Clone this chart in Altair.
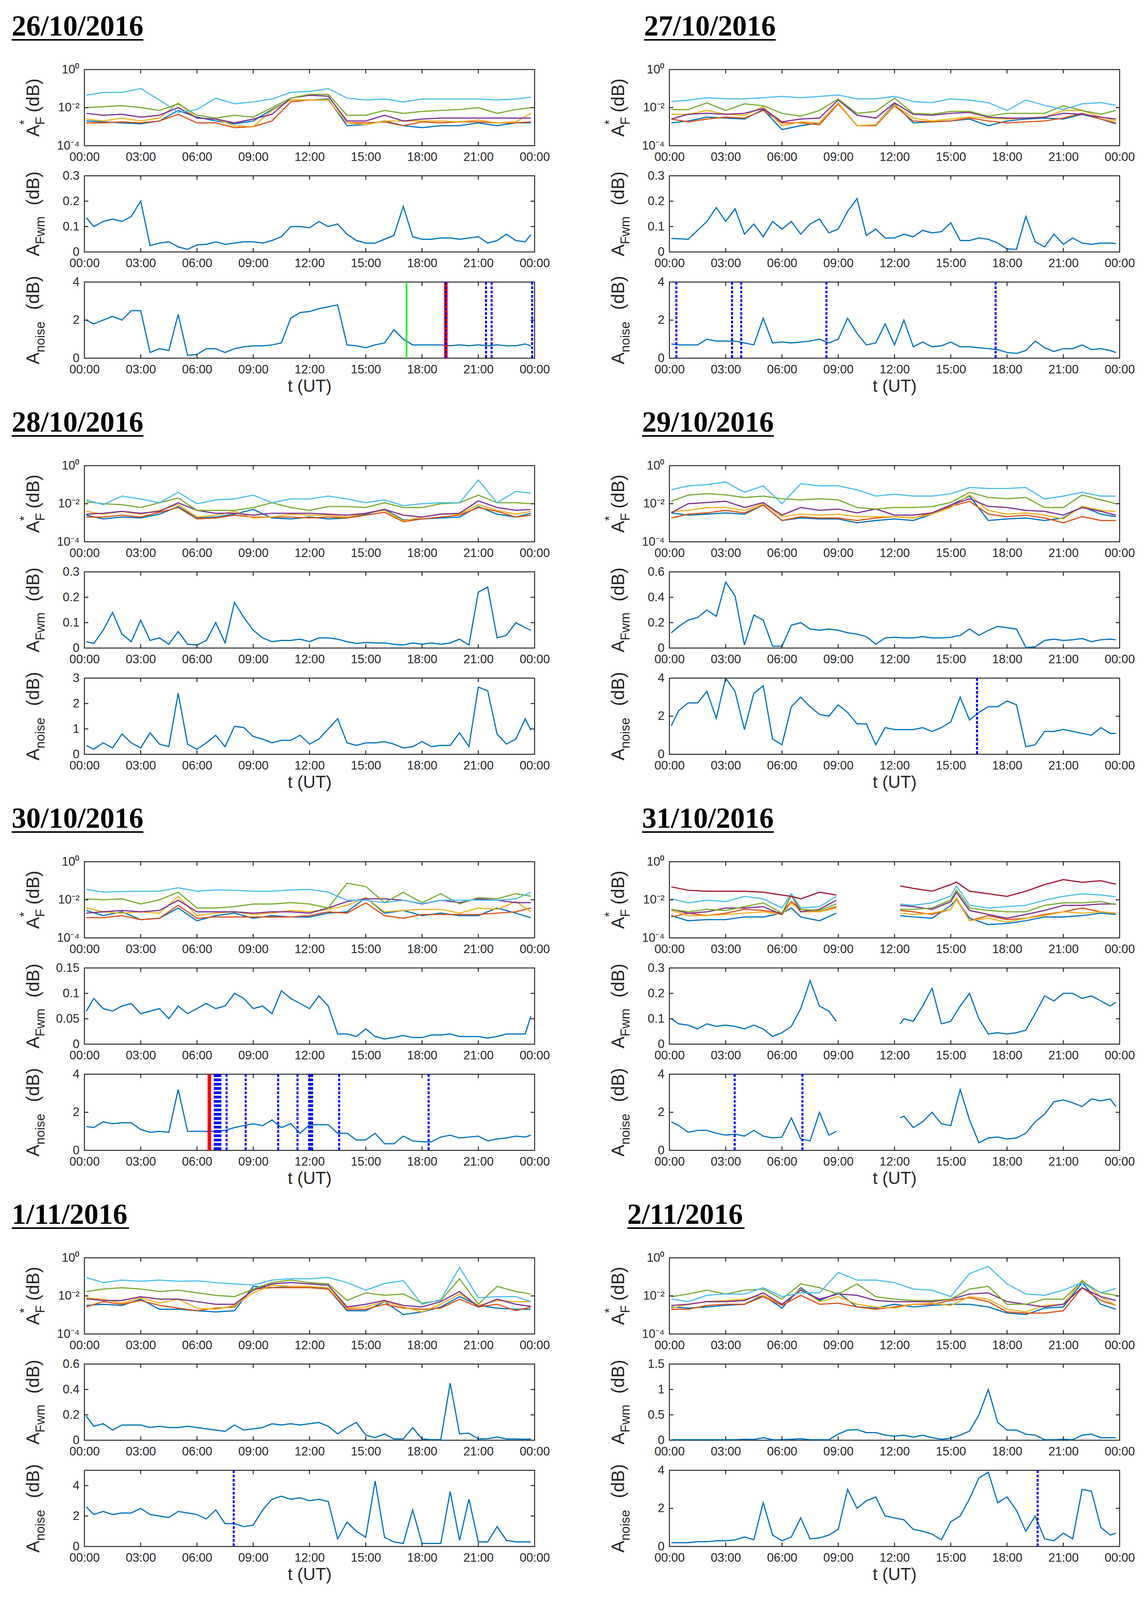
import altair as alt
import pandas as pd

# sample times, hours UT
HOURS = [0.1, 1, 2, 3, 4, 5, 6, 7, 8, 9, 10, 11, 12, 13, 14, 15, 16, 17, 18, 19, 20, 21, 22, 23, 23.8]
HALF = [0.1, 0.5, 1, 1.5, 2, 2.5, 3, 3.5, 4, 4.5, 5, 5.5,
        6, 6.5, 7, 7.5, 8, 8.5, 9, 9.5, 10, 10.5, 11, 11.5,
        12, 12.5, 13, 13.5, 14, 14.5, 15, 15.5, 16, 16.5, 17, 17.5,
        18, 18.5, 19, 19.5, 20, 20.5, 21, 21.5, 22, 22.5, 23, 23.5, 23.8]
# 31/10 has no data between ~09:00 and ~12:20 (10.5 marks the gap)
HOURS_31 = [0.1, 1, 2, 3, 4, 5, 6, 6.5, 7, 8, 8.9, 10.5, 12.3, 13, 14, 15, 15.3,
            16, 17, 18, 19, 20, 21, 22, 23, 23.8]
HALF_31 = [0.1, 0.5, 1, 1.5, 2, 2.5, 3, 3.5, 4, 4.5, 5, 5.5,
           6, 6.5, 7, 7.5, 8, 8.5, 8.9, 10.5, 12.3,
           12.5, 13, 13.5, 14, 14.5, 15, 15.5, 16, 16.5, 17, 17.5,
           18, 18.5, 19, 19.5, 20, 20.5, 21, 21.5, 22, 22.5, 23, 23.5, 23.8]

# ---- 26/10/2016 ---- (A*F as log10 values)
D26_BL = [-2.7, -2.75, -2.8, -2.85, -2.7, -2.15, -2.5, -2.7, -2.85, -2.7, -2.1, -1.6,
          -1.6, -1.55, -2.95, -2.9, -2.7, -2.95, -3.05, -2.95, -2.95, -2.8, -2.95, -2.8, -2.8]
D26_OR = [-2.8, -2.8, -2.75, -2.8, -2.7, -2.35, -2.8, -2.8, -3.05, -3.0, -2.7, -1.7,
          -1.6, -1.6, -2.8, -2.8, -2.75, -2.95, -2.75, -2.8, -2.75, -2.75, -2.8, -2.8, -2.75]
D26_YE = [-2.6, -2.7, -2.55, -2.7, -2.55, -1.75, -2.55, -2.6, -2.95, -3.0, -2.15, -1.6,
          -1.6, -1.6, -2.8, -2.9, -2.7, -2.7, -2.7, -2.7, -2.75, -2.65, -2.8, -2.75, -2.3]
D26_PU = [-2.3, -2.4, -2.35, -2.5, -2.4, -2.0, -2.55, -2.6, -2.8, -2.6, -2.35, -1.5,
          -1.35, -1.4, -2.7, -2.7, -2.4, -2.7, -2.6, -2.55, -2.55, -2.55, -2.55, -2.55, -2.55]
D26_GR = [-2.0, -1.95, -1.9, -2.0, -2.15, -1.8, -2.4, -2.55, -2.4, -2.5, -2.0, -1.5,
          -1.3, -1.3, -2.4, -2.4, -2.15, -2.3, -2.2, -2.15, -2.1, -2.0, -2.3, -2.1, -2.0]
D26_LB = [-1.35, -1.2, -1.2, -1.0, -1.6, -2.25, -2.1, -1.5, -1.8, -1.7, -1.55, -1.2,
          -1.15, -1.0, -1.5, -1.6, -1.55, -1.7, -1.55, -1.55, -1.55, -1.55, -1.6, -1.55, -1.45]
D26_FWM = [0.135, 0.10, 0.12, 0.13, 0.12, 0.14, 0.20, 0.025, 0.035, 0.04, 0.02, 0.01,
           0.028, 0.03, 0.04, 0.03, 0.035, 0.04, 0.04, 0.035, 0.045, 0.06, 0.10, 0.10,
           0.095, 0.12, 0.10, 0.11, 0.07, 0.045, 0.035, 0.035, 0.05, 0.065, 0.18, 0.06,
           0.05, 0.05, 0.055, 0.055, 0.05, 0.055, 0.06, 0.035, 0.045, 0.07, 0.045, 0.04, 0.068]
D26_NOISE = [2.0, 1.8, 2.0, 2.2, 2.0, 2.5, 2.5, 0.3, 0.5, 0.4, 2.3, 0.15,
             0.2, 0.5, 0.5, 0.3, 0.5, 0.6, 0.65, 0.65, 0.7, 0.8, 2.1, 2.4,
             2.45, 2.6, 2.7, 2.8, 0.7, 0.65, 0.55, 0.7, 0.8, 1.5, 1.0, 0.7,
             0.7, 0.7, 0.7, 0.65, 0.7, 0.65, 0.7, 0.65, 0.7, 0.65, 0.65, 0.75, 0.65]
E26_GREEN = [17.17]
E26_RED = [19.27]
E26_BLUE = [19.27, 21.41, 21.71, 23.87]

# ---- 27/10/2016 ----
D27_BL = [-2.8, -2.7, -2.5, -2.55, -2.6, -2.1, -3.15, -2.95, -2.8, -1.75, -2.95, -2.9,
          -1.8, -2.8, -2.75, -2.7, -2.6, -2.95, -2.7, -2.6, -2.55, -2.6, -2.35, -2.6, -2.85]
D27_OR = [-2.6, -2.75, -2.6, -2.5, -2.55, -2.15, -2.8, -2.8, -2.9, -1.8, -2.95, -2.95,
          -1.9, -2.7, -2.75, -2.7, -2.55, -2.7, -2.8, -2.75, -2.7, -2.55, -2.3, -2.6, -2.8]
D27_YE = [-2.35, -2.35, -2.15, -2.35, -2.4, -1.95, -2.95, -2.75, -2.8, -1.75, -2.95, -2.9,
          -1.85, -2.55, -2.7, -2.6, -2.5, -2.55, -2.6, -2.55, -2.5, -2.15, -2.15, -2.5, -2.7]
D27_PU = [-2.6, -2.35, -2.3, -2.35, -2.3, -2.05, -2.75, -2.6, -2.55, -1.6, -2.4, -2.55,
          -1.75, -2.35, -2.4, -2.3, -2.25, -2.5, -2.55, -2.55, -2.5, -2.3, -2.35, -2.5, -2.6]
D27_GR = [-2.1, -2.1, -1.75, -2.15, -1.8, -1.9, -2.3, -2.45, -2.15, -1.55, -2.3, -2.2,
          -1.5, -2.3, -2.35, -2.2, -2.2, -2.45, -2.3, -2.3, -2.3, -1.9, -2.15, -2.35, -2.15]
D27_LB = [-1.68, -1.61, -1.48, -1.54, -1.54, -1.48, -1.41, -1.48, -1.41, -1.34, -1.54, -1.54,
          -1.41, -1.68, -1.74, -1.54, -1.61, -1.74, -2.15, -1.6, -1.88, -2.1, -1.8, -1.74, -1.88]
D27_FWM = [0.053, 0.052, 0.05, 0.085, 0.12, 0.175, 0.12, 0.17, 0.07, 0.11, 0.06, 0.12,
           0.09, 0.12, 0.07, 0.11, 0.13, 0.075, 0.09, 0.16, 0.21, 0.065, 0.09, 0.055,
           0.055, 0.07, 0.06, 0.085, 0.075, 0.08, 0.115, 0.045, 0.045, 0.055, 0.05, 0.035,
           0.012, 0.01, 0.14, 0.04, 0.02, 0.07, 0.03, 0.055, 0.035, 0.03, 0.035, 0.035, 0.033]
D27_NOISE = [0.75, 0.7, 0.7, 0.7, 1.0, 0.9, 0.9, 0.9, 0.8, 0.7, 2.1, 0.8,
             0.85, 0.8, 0.85, 0.9, 1.0, 0.8, 1.0, 2.1, 1.3, 0.7, 0.8, 1.8,
             0.7, 2.0, 0.6, 0.85, 0.6, 0.65, 0.85, 0.6, 0.6, 0.55, 0.5, 0.45,
             0.3, 0.25, 0.4, 0.9, 0.55, 0.35, 0.5, 0.5, 0.7, 0.45, 0.5, 0.4, 0.3]
E27_BLUE = [0.37, 3.34, 3.83, 8.37, 17.39]

# ---- 28/10/2016 ----
D28_BL = [-2.6, -2.8, -2.7, -2.75, -2.55, -2.15, -2.75, -2.7, -2.55, -2.3, -2.75, -2.8,
          -2.7, -2.8, -2.75, -2.55, -2.3, -2.85, -2.8, -2.75, -2.7, -2.15, -2.55, -2.7, -2.5]
D28_OR = [-2.7, -2.7, -2.6, -2.7, -2.45, -2.2, -2.8, -2.75, -2.6, -2.7, -2.7, -2.7,
          -2.75, -2.7, -2.75, -2.6, -2.45, -2.95, -2.8, -2.7, -2.6, -2.2, -2.4, -2.7, -2.6]
D28_YE = [-2.4, -2.55, -2.4, -2.55, -2.35, -2.05, -2.7, -2.6, -2.4, -2.75, -2.7, -2.55,
          -2.6, -2.6, -2.7, -2.5, -2.35, -2.9, -2.7, -2.55, -2.55, -2.05, -2.35, -2.55, -2.4]
D28_PU = [-2.55, -2.5, -2.4, -2.5, -2.4, -1.95, -2.35, -2.5, -2.5, -2.6, -2.5, -2.5,
          -2.5, -2.55, -2.6, -2.5, -2.3, -2.6, -2.7, -2.55, -2.5, -1.85, -2.2, -2.35, -2.3]
D28_GR = [-1.9, -2.0, -2.05, -2.2, -1.95, -1.7, -2.35, -2.35, -2.35, -2.2, -1.95, -2.2,
          -2.35, -2.15, -2.15, -2.2, -1.95, -2.2, -2.2, -2.0, -1.95, -1.55, -1.95, -1.95, -2.0]
D28_LB = [-1.8, -2.05, -1.6, -1.75, -1.95, -1.4, -2.0, -1.8, -1.75, -1.55, -1.95, -1.75,
          -1.75, -1.6, -1.75, -1.95, -1.8, -2.1, -2.0, -1.95, -1.95, -0.75, -1.95, -1.35, -1.45]
D28_FWM = [0.025, 0.018, 0.07, 0.14, 0.055, 0.025, 0.11, 0.03, 0.04, 0.015, 0.065, 0.015,
           0.012, 0.03, 0.1, 0.02, 0.18, 0.12, 0.07, 0.04, 0.025, 0.03, 0.03, 0.035,
           0.025, 0.04, 0.04, 0.035, 0.025, 0.018, 0.022, 0.02, 0.02, 0.015, 0.012, 0.02,
           0.015, 0.02, 0.015, 0.02, 0.035, 0.012, 0.22, 0.24, 0.04, 0.05, 0.1, 0.08, 0.07]
D28_NOISE = [0.35, 0.2, 0.45, 0.25, 0.8, 0.45, 0.25, 0.85, 0.4, 0.3, 2.4, 0.4,
             0.2, 0.45, 0.75, 0.3, 1.1, 1.05, 0.7, 0.6, 0.45, 0.55, 0.55, 0.75,
             0.4, 0.6, 1.0, 1.4, 0.45, 0.35, 0.45, 0.45, 0.5, 0.4, 0.25, 0.3,
             0.5, 0.3, 0.35, 0.35, 0.85, 0.3, 2.65, 2.5, 0.8, 0.4, 0.6, 1.4, 0.95]

# ---- 29/10/2016 ----
D29_BL = [-2.48, -2.6, -2.55, -2.48, -2.55, -2.07, -2.88, -2.75, -2.8, -2.8, -3.0, -2.88,
          -2.8, -2.88, -2.55, -2.07, -1.6, -2.88, -2.8, -2.75, -2.88, -2.75, -2.14, -2.55, -2.68]
D29_OR = [-2.75, -2.55, -2.48, -2.35, -2.48, -2.07, -2.88, -2.68, -2.75, -2.75, -2.88, -2.75,
          -2.68, -2.75, -2.48, -2.14, -1.87, -2.55, -2.68, -2.6, -2.75, -3.0, -2.68, -2.88, -2.88]
D29_YE = [-2.41, -2.35, -2.2, -2.2, -2.35, -2.0, -2.68, -2.55, -2.6, -2.55, -2.68, -2.68,
          -2.68, -2.75, -2.55, -2.2, -1.54, -2.35, -2.55, -2.48, -2.6, -2.8, -2.14, -2.35, -2.41]
D29_PU = [-2.48, -2.0, -1.94, -1.87, -2.2, -1.94, -2.6, -2.2, -2.35, -2.28, -2.48, -2.28,
          -2.6, -2.6, -2.48, -2.07, -1.74, -2.14, -2.2, -2.35, -2.4, -2.6, -2.2, -2.4, -2.6]
D29_GR = [-1.87, -1.55, -1.47, -1.54, -1.67, -1.6, -1.74, -1.8, -1.74, -1.8, -2.2, -2.28,
          -2.2, -2.2, -2.15, -1.94, -1.4, -1.67, -1.74, -1.67, -2.2, -2.2, -1.54, -1.8, -2.0]
D29_LB = [-1.27, -1.06, -1.0, -0.86, -1.4, -1.06, -2.0, -0.95, -1.06, -1.06, -1.27, -1.6,
          -1.5, -1.6, -1.6, -1.48, -1.15, -1.2, -1.2, -1.15, -1.75, -1.6, -1.4, -1.6, -1.6]
D29_FWM = [0.12, 0.17, 0.22, 0.24, 0.3, 0.25, 0.52, 0.41, 0.025, 0.26, 0.22, 0.015,
           0.015, 0.18, 0.2, 0.15, 0.14, 0.15, 0.14, 0.12, 0.11, 0.09, 0.03, 0.08,
           0.085, 0.08, 0.08, 0.09, 0.08, 0.08, 0.085, 0.1, 0.15, 0.1, 0.14, 0.17,
           0.16, 0.15, 0.005, 0.01, 0.06, 0.07, 0.06, 0.065, 0.075, 0.05, 0.065, 0.07, 0.065]
D29_NOISE = [1.5, 2.3, 2.7, 2.7, 3.3, 1.9, 4.0, 3.3, 1.3, 3.2, 3.6, 0.8,
             0.5, 2.5, 3.0, 2.5, 2.1, 2.0, 2.6, 2.2, 1.6, 1.6, 0.5, 1.4,
             1.3, 1.3, 1.3, 1.4, 1.2, 1.4, 1.7, 3.0, 1.8, 2.2, 2.5, 2.5,
             2.8, 2.6, 0.4, 0.5, 1.2, 1.2, 1.3, 1.2, 1.1, 1.0, 1.4, 1.1, 1.1]
E29_BLUE = [16.4]

# ---- 30/10/2016 ----
D30_BL = [-2.56, -2.83, -2.63, -3.04, -2.97, -2.43, -3.1, -2.83, -2.7, -2.97, -2.83, -2.9,
          -2.9, -2.7, -2.63, -1.88, -2.7, -2.56, -2.83, -2.7, -2.83, -2.83, -2.43, -2.7, -2.94]
D30_OR = [-2.94, -2.94, -2.83, -3.04, -2.97, -2.29, -2.97, -2.9, -2.9, -2.9, -2.9, -2.9,
          -2.83, -2.63, -2.7, -2.16, -2.83, -2.97, -2.77, -2.77, -2.77, -2.77, -2.7, -2.63, -2.43]
D30_YE = [-2.43, -2.63, -2.7, -2.63, -2.7, -1.82, -2.83, -2.7, -2.63, -2.77, -2.7, -2.56,
          -2.63, -2.5, -2.29, -1.88, -2.63, -2.56, -2.5, -2.5, -2.7, -2.43, -2.5, -2.09, -2.63]
D30_PU = [-2.7, -2.63, -2.56, -2.63, -2.56, -2.02, -2.63, -2.63, -2.63, -2.7, -2.63, -2.63,
          -2.7, -2.43, -2.09, -1.95, -1.95, -2.02, -2.22, -2.02, -2.15, -1.95, -2.02, -2.15, -2.15]
D30_GR = [-1.95, -2.0, -1.95, -2.22, -2.0, -1.6, -2.43, -2.43, -2.36, -2.22, -2.22, -2.15,
          -2.22, -2.43, -1.13, -1.3, -2.15, -1.61, -2.15, -1.68, -2.22, -1.88, -1.95, -1.68, -1.81]
D30_LB = [-1.45, -1.6, -1.57, -1.55, -1.55, -1.37, -1.55, -1.48, -1.5, -1.55, -1.55, -1.48,
          -1.45, -1.6, -2.02, -2.02, -2.15, -2.02, -2.2, -2.02, -2.02, -2.02, -2.02, -1.95, -1.6]
D30_FWM = [0.065, 0.09, 0.07, 0.065, 0.075, 0.08, 0.06, 0.065, 0.07, 0.05, 0.075, 0.06,
           0.07, 0.08, 0.07, 0.075, 0.1, 0.09, 0.07, 0.075, 0.06, 0.105, 0.09, 0.08,
           0.07, 0.095, 0.075, 0.02, 0.02, 0.015, 0.03, 0.015, 0.01, 0.013, 0.017, 0.013,
           0.013, 0.018, 0.018, 0.02, 0.015, 0.015, 0.015, 0.012, 0.015, 0.02, 0.02, 0.02, 0.055]
D30_NOISE = [1.25, 1.2, 1.5, 1.4, 1.45, 1.45, 1.1, 0.95, 1.0, 0.95, 3.2, 1.0,
             1.0, 1.0, 1.0, 1.05, 1.2, 1.3, 1.4, 1.3, 1.6, 1.2, 1.4, 0.9,
             1.35, 1.35, 1.35, 0.9, 0.9, 0.55, 0.55, 0.9, 0.35, 0.35, 0.75, 0.5,
             0.45, 0.45, 0.7, 0.8, 0.65, 0.7, 0.75, 0.5, 0.6, 0.65, 0.75, 0.7, 0.8]
E30_RED = [6.66]
E30_BLUE = [6.95, 7.05, 7.15, 7.25, 7.58, 8.6, 10.33, 11.36, 11.98, 12.06, 12.14, 13.58, 18.35]

# ---- 31/10/2016 ---- (None = no data)
D31_BL = [-2.83, -3.1, -3.04, -3.04, -2.9, -2.9, -2.7, -2.43, -2.9, -3.1, -2.7, None, -2.83,
          -2.9, -2.97, -2.3, -1.95, -2.97, -3.3, -3.24, -3.1, -2.9, -2.9, -2.83, -2.7, -2.77]
D31_OR = [-2.9, -2.7, -2.83, -2.7, -2.5, -2.56, -2.7, -2.09, -2.5, -2.63, -2.36, None, -2.56,
          -2.63, -2.77, -2.5, -1.95, -3.1, -2.83, -3.04, -2.97, -2.77, -2.63, -2.43, -2.63, -2.7]
D31_YE = [-2.56, -2.83, -2.83, -2.77, -2.7, -2.63, -2.77, -2.16, -2.63, -2.63, -2.43, None, -2.7,
          -2.77, -2.7, -2.5, -1.88, -3.1, -2.97, -3.17, -2.97, -2.83, -2.63, -2.7, -2.63, -2.7]
D31_PU = [-2.5, -2.7, -2.63, -2.43, -2.43, -2.36, -2.77, -1.75, -2.63, -2.5, -2.02, None, -2.29,
          -2.36, -2.5, -2.1, -1.61, -2.56, -2.77, -2.97, -2.77, -2.56, -2.29, -2.29, -2.22, -2.22]
D31_GR = [-2.5, -2.63, -2.5, -2.56, -2.36, -2.16, -2.7, -1.75, -2.5, -2.56, -2.22, None, -2.5,
          -2.5, -2.43, -2.0, -1.48, -2.43, -2.56, -2.63, -2.63, -2.29, -2.16, -2.16, -2.09, -2.25]
D31_LB = [-1.95, -2.16, -2.02, -2.09, -1.82, -1.95, -2.43, -1.68, -2.43, -2.36, -1.82, None, -2.22,
          -2.29, -2.16, -1.8, -1.27, -2.29, -2.43, -2.36, -2.29, -2.02, -1.82, -1.68, -1.75, -1.84]
D31_DR = [-1.32, -1.5, -1.55, -1.55, -1.55, -1.6, -1.75, -1.82, -1.95, -1.6, -1.75, None, -1.27,
          -1.4, -1.55, -1.2, -1.07, -1.55, -1.68, -1.82, -1.55, -1.2, -0.94, -1.08, -1.0, -1.18]
D31_FWM = [0.1, 0.08, 0.075, 0.06, 0.08, 0.07, 0.075, 0.07, 0.06, 0.075, 0.06, 0.03,
           0.045, 0.07, 0.14, 0.25, 0.15, 0.13, 0.09, None, 0.08,
           0.1, 0.09, 0.15, 0.22, 0.08, 0.09, 0.15, 0.2, 0.1, 0.04, 0.045,
           0.04, 0.045, 0.055, 0.12, 0.19, 0.17, 0.2, 0.2, 0.18, 0.19, 0.17, 0.15, 0.165]
D31_NOISE = [1.5, 1.3, 0.95, 1.05, 1.05, 0.9, 0.8, 0.85, 0.75, 1.05, 0.75, 0.65,
             0.7, 1.7, 0.6, 0.5, 2.0, 0.8, 1.0, None, 1.7,
             1.8, 1.2, 1.5, 2.0, 1.4, 1.3, 3.2, 1.6, 0.4, 0.65, 0.7,
             0.6, 0.65, 0.9, 1.5, 1.9, 2.55, 2.65, 2.5, 2.3, 2.7, 2.6, 2.7, 2.3]
E31_BLUE = [3.48, 7.09]

# ---- 1/11/2016 ----
D01_BL = [-2.5, -2.44, -2.5, -2.17, -2.7, -2.7, -2.78, -2.84, -2.78, -1.5, -1.57, -1.5,
          -1.5, -1.64, -2.78, -2.78, -2.3, -2.98, -2.84, -2.58, -2.04, -2.5, -2.64, -2.7, -2.7]
D01_OR = [-2.58, -2.3, -2.44, -2.24, -2.5, -2.64, -2.78, -2.64, -2.58, -1.64, -1.57, -1.57,
          -1.57, -1.64, -2.7, -2.7, -2.44, -2.64, -2.7, -2.64, -2.17, -2.58, -2.44, -2.78, -2.58]
D01_YE = [-2.1, -2.17, -2.38, -2.1, -2.38, -2.17, -2.64, -2.7, -2.5, -1.84, -1.44, -1.5,
          -1.5, -1.57, -2.64, -2.58, -2.3, -2.58, -2.84, -2.44, -1.9, -2.5, -2.24, -2.3, -2.3]
D01_PU = [-2.15, -2.24, -2.24, -2.04, -2.17, -2.17, -2.3, -2.44, -2.44, -1.7, -1.37, -1.3,
          -1.37, -1.44, -2.58, -2.44, -2.24, -2.5, -2.58, -2.3, -1.77, -2.58, -2.17, -2.44, -2.55]
D01_GR = [-1.77, -1.64, -1.57, -1.64, -1.77, -1.7, -1.84, -1.97, -2.04, -1.64, -1.3, -1.17,
          -1.3, -1.37, -2.24, -1.84, -1.97, -1.9, -2.38, -2.24, -1.1, -2.44, -1.5, -1.77, -1.9]
D01_LB = [-1.03, -1.3, -1.17, -1.23, -1.17, -1.23, -1.21, -1.3, -1.37, -1.43, -1.17, -1.1,
          -1.1, -1.03, -1.3, -1.7, -1.35, -1.2, -2.44, -2.2, -0.5, -2.1, -2.04, -2.04, -2.3]
D01_FWM = [0.19, 0.11, 0.13, 0.08, 0.12, 0.12, 0.12, 0.1, 0.11, 0.1, 0.1, 0.11,
           0.1, 0.09, 0.08, 0.07, 0.12, 0.08, 0.09, 0.1, 0.13, 0.12, 0.13, 0.12,
           0.13, 0.14, 0.11, 0.05, 0.1, 0.14, 0.04, 0.02, 0.05, 0.01, 0.01, 0.1,
           0.01, 0.005, 0.005, 0.45, 0.05, 0.055, 0.01, 0.012, 0.025, 0.01, 0.01, 0.008, 0.01]
D01_NOISE = [2.6, 2.1, 2.3, 2.1, 2.2, 2.2, 2.5, 2.1, 2.0, 1.9, 2.3, 2.2,
             2.1, 1.8, 2.4, 1.5, 1.5, 1.3, 1.4, 2.4, 3.1, 3.3, 3.1, 3.2,
             3.0, 3.1, 2.95, 0.5, 1.6, 1.0, 0.6, 4.3, 0.6, 0.3, 0.2, 2.4,
             0.2, 0.2, 0.2, 3.6, 0.4, 3.1, 0.3, 0.3, 1.3, 0.4, 0.3, 0.3, 0.3]
E01_BLUE = [7.96]

# ---- 2/11/2016 ----
D02_BL = [-2.58, -2.64, -2.58, -2.5, -2.44, -1.97, -2.64, -1.57, -2.24, -1.84, -2.58, -2.64,
          -2.44, -2.58, -2.5, -2.44, -2.44, -2.58, -2.9, -2.98, -2.64, -2.58, -1.3, -2.44, -2.7]
D02_OR = [-2.7, -2.7, -2.5, -2.44, -2.44, -2.04, -2.5, -1.97, -2.44, -2.38, -2.58, -2.7,
          -2.58, -2.44, -2.44, -2.24, -2.1, -2.3, -2.84, -2.9, -2.9, -2.78, -1.57, -2.24, -2.5]
D02_YE = [-2.64, -2.44, -2.3, -2.24, -2.17, -1.97, -2.44, -1.64, -2.3, -2.04, -2.44, -2.58,
          -2.64, -2.44, -2.38, -2.5, -2.04, -2.17, -2.7, -2.84, -2.5, -2.44, -1.17, -2.04, -2.5]
D02_PU = [-2.5, -2.44, -2.3, -2.3, -2.24, -1.84, -2.44, -1.7, -2.17, -1.9, -1.97, -2.24,
          -2.3, -2.3, -2.3, -2.17, -1.9, -1.84, -2.3, -2.44, -2.58, -2.44, -1.57, -2.04, -2.24]
D02_GR = [-2.04, -1.9, -1.7, -1.9, -1.7, -1.64, -2.17, -1.37, -1.57, -1.9, -1.37, -2.04,
          -2.17, -2.24, -2.24, -2.17, -1.64, -1.5, -2.44, -2.44, -2.17, -2.17, -1.23, -1.84, -1.97]
D02_LB = [-2.17, -2.3, -1.97, -1.9, -1.9, -1.57, -2.04, -1.84, -1.84, -0.77, -1.17, -1.17,
          -1.3, -1.64, -1.7, -2.04, -0.83, -0.45, -1.37, -1.9, -1.97, -1.7, -1.3, -1.84, -1.61]
D02_FWM = [0.01, 0.01, 0.01, 0.01, 0.01, 0.01, 0.01, 0.01, 0.02, 0.015, 0.05, 0.01,
           0.01, 0.02, 0.03, 0.01, 0.01, 0.01, 0.12, 0.2, 0.21, 0.15, 0.15, 0.1,
           0.08, 0.1, 0.06, 0.1, 0.05, 0.02, 0.04, 0.1, 0.18, 0.5, 1.0, 0.35,
           0.2, 0.2, 0.12, 0.1, 0.01, 0.01, 0.02, 0.01, 0.1, 0.12, 0.05, 0.05, 0.05]
D02_NOISE = [0.2, 0.2, 0.2, 0.25, 0.25, 0.3, 0.3, 0.35, 0.5, 0.35, 2.3, 0.6,
             0.3, 0.5, 1.5, 0.4, 0.45, 0.6, 0.9, 3.0, 2.0, 2.4, 2.6, 1.6,
             1.5, 1.4, 0.9, 0.8, 0.65, 0.35, 1.3, 1.6, 2.5, 3.6, 3.9, 2.3,
             2.6, 1.9, 0.8, 1.6, 0.4, 0.3, 0.7, 0.4, 3.0, 2.9, 1.0, 0.6, 0.7]
E02_BLUE = [19.63]

DAYS = [
    dict(title="26/10/2016", tx=-186, hours=HOURS, half=HALF,
         af=[D26_BL, D26_OR, D26_YE, D26_PU, D26_GR, D26_LB], fwm=D26_FWM, noise=D26_NOISE,
         fwm_ticks=[0, 0.1, 0.2, 0.3], noise_ticks=[0, 2, 4], noise_max=4,
         green=E26_GREEN, red=E26_RED, blue=E26_BLUE),
    dict(title="27/10/2016", tx=-65, hours=HOURS, half=HALF,
         af=[D27_BL, D27_OR, D27_YE, D27_PU, D27_GR, D27_LB], fwm=D27_FWM, noise=D27_NOISE,
         fwm_ticks=[0, 0.1, 0.2, 0.3], noise_ticks=[0, 2, 4], noise_max=4,
         green=[], red=[], blue=E27_BLUE),
    dict(title="28/10/2016", tx=-186, hours=HOURS, half=HALF,
         af=[D28_BL, D28_OR, D28_YE, D28_PU, D28_GR, D28_LB], fwm=D28_FWM, noise=D28_NOISE,
         fwm_ticks=[0, 0.1, 0.2, 0.3], noise_ticks=[0, 1, 2, 3], noise_max=3,
         green=[], red=[], blue=[]),
    dict(title="29/10/2016", tx=-70, hours=HOURS, half=HALF,
         af=[D29_BL, D29_OR, D29_YE, D29_PU, D29_GR, D29_LB], fwm=D29_FWM, noise=D29_NOISE,
         fwm_ticks=[0, 0.2, 0.4, 0.6], noise_ticks=[0, 2, 4], noise_max=4,
         green=[], red=[], blue=E29_BLUE),
    dict(title="30/10/2016", tx=-186, hours=HOURS, half=HALF,
         af=[D30_BL, D30_OR, D30_YE, D30_PU, D30_GR, D30_LB], fwm=D30_FWM, noise=D30_NOISE,
         fwm_ticks=[0, 0.05, 0.1, 0.15], noise_ticks=[0, 2, 4], noise_max=4,
         green=[], red=E30_RED, blue=E30_BLUE),
    dict(title="31/10/2016", tx=-70, hours=HOURS_31, half=HALF_31,
         af=[D31_BL, D31_OR, D31_YE, D31_PU, D31_GR, D31_LB, D31_DR], fwm=D31_FWM, noise=D31_NOISE,
         fwm_ticks=[0, 0.1, 0.2, 0.3], noise_ticks=[0, 2, 4], noise_max=4,
         green=[], red=[], blue=E31_BLUE),
    dict(title="1/11/2016", tx=-186, hours=HOURS, half=HALF,
         af=[D01_BL, D01_OR, D01_YE, D01_PU, D01_GR, D01_LB], fwm=D01_FWM, noise=D01_NOISE,
         fwm_ticks=[0, 0.2, 0.4, 0.6], noise_ticks=[0, 2, 4], noise_max=5,
         green=[], red=[], blue=E01_BLUE),
    dict(title="2/11/2016", tx=-108, hours=HOURS, half=HALF,
         af=[D02_BL, D02_OR, D02_YE, D02_PU, D02_GR, D02_LB], fwm=D02_FWM, noise=D02_NOISE,
         fwm_ticks=[0, 0.5, 1, 1.5], noise_ticks=[0, 2, 4], noise_max=4,
         green=[], red=[], blue=E02_BLUE),
]

# matlab default colour order
SERIES = ["s1", "s2", "s3", "s4", "s5", "s6", "s7"]
PALETTE = ["#0072BD", "#D95319", "#EDB120", "#7E2F8E", "#77AC30", "#4DBEEE", "#A2142F"]

# the photographed area is only ~4100px tall, so the page is laid out a bit flatter
W, H, TICK = 1152, 195, 10
GAP_IN, GAP_DAY = 77, 275   # gap between a day's plots / between days
INK = "#262626"
SANS, SERIF = "Liberation Sans", "Liberation Serif"
M, S = 46, 33          # ylabel font size, sub/superscript size
YT_X = -116            # ylabel baseline, left of the plot
TITLE_SIZE = 74
TITLE_Y = -87
EM = {"A": .667, "F": .611, "w": .722, "m": .833, "n": .556, "o": .556, "i": .222,
      "s": .5, "e": .556, "(": .333, "d": .556, "B": .667, ")": .333, " ": .278}

XS = alt.Scale(domain=[0, 24], nice=False, zero=False)
XVALS = [0, 3, 6, 9, 12, 15, 18, 21, 24]
XLAB = "(datum.value % 24 < 10 ? '0' : '') + (datum.value % 24) + ':00'"
LOGLAB = "datum.value > 0.1 ? '10⁰' : (datum.value > 0.001 ? '10⁻²' : '10⁻⁴')"


def rows_of(times, values, name):
    out, seg = [], 0
    for t, v in zip(times, values):
        if v is None:
            seg += 1
            continue
        out.append({"t": t, "v": v, "s": name, "seg": seg})
    return out


def one():
    return pd.DataFrame({"k": [0]})


def text_w(s, size):
    return sum(EM[c] for c in s) * size


def text_layer(txt, size, x, y, angle=270, font=SANS, weight="normal", color=INK):
    return alt.Chart(one()).mark_text(
        text=txt, font=font, fontSize=size, fontWeight=weight, angle=angle,
        align="left", baseline="alphabetic", color=color
    ).encode(x=alt.value(x), y=alt.value(y))


def y_title(sub, gap, star=False):
    # "A" + subscript + gap + "(dB)", read bottom to top, centred on the plot
    parts = [("A", M, 0), (sub, S, 14), (None, gap, 0), ("(dB)", M, 0)]
    total = sum(text_w(p, sz) if p else sz for p, sz, _ in parts)
    y = H / 2 + total / 2
    layers = []
    for txt, sz, dx in parts:
        if txt is None:
            y -= sz
            continue
        layers.append(text_layer(txt, sz, YT_X + dx, y))
        if star and txt == sub:
            layers.append(text_layer("*", S, YT_X - 27, y))
        y -= text_w(txt, sz)
    return layers


def frame_ticks(xe, ye, yvals):
    # matlab style inward ticks on all four sides
    xdf = pd.DataFrame({"t": XVALS[1:-1]})
    ydf = pd.DataFrame({"v": yvals})
    rule = dict(color=INK, strokeWidth=2.5)
    return [
        alt.Chart(xdf).mark_rule(**rule).encode(x=xe, y=alt.value(H), y2=alt.value(H - TICK)),
        alt.Chart(xdf).mark_rule(**rule).encode(x=xe, y=alt.value(0), y2=alt.value(TICK)),
        alt.Chart(ydf).mark_rule(**rule).encode(y=ye, x=alt.value(0), x2=alt.value(TICK)),
        alt.Chart(ydf).mark_rule(**rule).encode(y=ye, x=alt.value(W), x2=alt.value(W - TICK)),
    ]


def event_layer(xe, times, color, width, dash=None):
    kw = dict(color=color, strokeWidth=width)
    if dash:
        kw["strokeDash"] = dash
    return alt.Chart(pd.DataFrame({"t": times})).mark_rule(**kw).encode(
        x=xe, y=alt.value(0), y2=alt.value(H))


def af_chart(day):
    rows = []
    for name, vals in zip(SERIES, day["af"]):
        rows += rows_of(day["hours"], [None if e is None else 10 ** e for e in vals], name)
    xe = alt.X("t:Q", scale=XS, axis=alt.Axis(values=XVALS, labelExpr=XLAB, title=None))
    ye = alt.Y("v:Q", scale=alt.Scale(type="log", domain=[1e-4, 1]),
               axis=alt.Axis(values=[1e-4, 1e-2, 1], labelExpr=LOGLAB, title=None))
    lines = alt.Chart(pd.DataFrame(rows)).mark_line(strokeWidth=3, clip=True).encode(
        x=xe, y=ye,
        color=alt.Color("s:N", scale=alt.Scale(domain=SERIES, range=PALETTE), legend=None),
        detail="seg:N",
    )
    tw = sum(0.278 if c == "/" else 0.5 for c in day["title"]) * TITLE_SIZE
    head = [
        text_layer(day["title"], TITLE_SIZE, day["tx"], TITLE_Y, angle=0, font=SERIF,
                   weight="bold", color="black"),
        alt.Chart(one()).mark_rule(color="black", strokeWidth=4).encode(
            x=alt.value(day["tx"]), x2=alt.value(day["tx"] + tw), y=alt.value(TITLE_Y + 11)),
    ]
    return alt.layer(lines, *frame_ticks(xe, ye, [1e-2]), *y_title("F", 0.25 * M, star=True),
                     *head).properties(width=W, height=H)


def value_chart(day, key, ticks, top, sub, gap, bottom):
    df = pd.DataFrame(rows_of(day["half"], day[key], "s1"))
    xe = alt.X("t:Q", scale=XS, axis=alt.Axis(values=XVALS, labelExpr=XLAB,
                                               title="t (UT)" if bottom else None))
    ye = alt.Y("v:Q", scale=alt.Scale(domain=[0, top], nice=False, zero=True),
               axis=alt.Axis(values=ticks, format=".3~g", title=None))
    line = alt.Chart(df).mark_line(strokeWidth=3, clip=True, color=PALETTE[0]).encode(
        x=xe, y=ye, detail="seg:N")
    layers = [line, *frame_ticks(xe, ye, [v for v in ticks if 0 < v < top])]
    if bottom:
        if day["green"]:
            layers.append(event_layer(xe, day["green"], "#00FF00", 4))
        if day["red"]:
            layers.append(event_layer(xe, day["red"], "#FF0000", 9))
        if day["blue"]:
            layers.append(event_layer(xe, day["blue"], "#0000FF", 5, [7, 4]))
    layers += y_title(sub, gap)
    return alt.layer(*layers).properties(width=W, height=H)


def spacer():
    return alt.Chart(one()).mark_text(text=" ").encode(
        x=alt.value(0), y=alt.value(0)
    ).properties(width=W, height=GAP_DAY - 2 * GAP_IN,
                 view=alt.ViewBackground(stroke="transparent"))


# one flat grid, two columns: af / fwm / noise / spacer for each pair of days
cells = []
for i in range(0, 8, 2):
    left, right = DAYS[i], DAYS[i + 1]
    if i:
        cells += [spacer(), spacer()]
    cells += [af_chart(left), af_chart(right)]
    cells += [value_chart(d, "fwm", d["fwm_ticks"], d["fwm_ticks"][-1], "Fwm", 28, False)
              for d in (left, right)]
    cells += [value_chart(d, "noise", d["noise_ticks"], d["noise_max"], "noise", 30, True)
              for d in (left, right)]

chart = alt.concat(
    *cells, columns=2, spacing={"row": GAP_IN, "column": 345}, bounds="flush", align="each"
).properties(
    padding={"left": 18, "top": 22, "right": 4, "bottom": 4}
).configure_view(
    stroke=INK, strokeWidth=2.5
).configure_axis(
    grid=False, domain=False, ticks=False, labelFlush=False,
    labelFont=SANS, labelFontSize=31, labelColor=INK,
    titleFont=SANS, titleFontSize=44, titleColor=INK, titleFontWeight="normal",
).configure_axisX(
    labelPadding=14, titlePadding=6
).configure_axisY(
    labelPadding=13
)

chart.save("out.html", embed_options={"renderer": "svg", "actions": False})
